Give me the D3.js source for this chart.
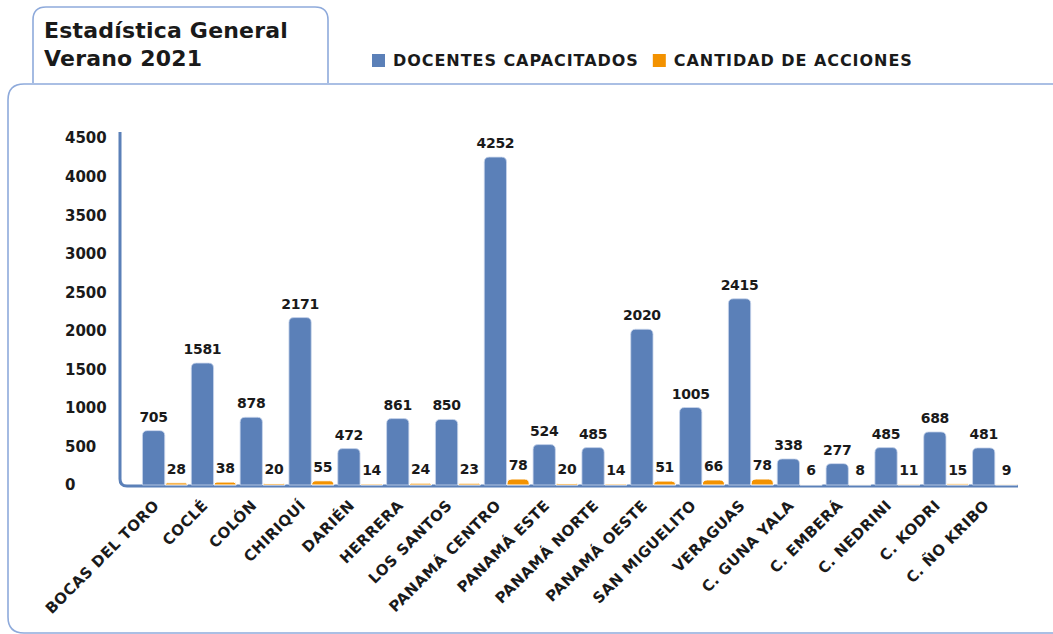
<!DOCTYPE html>
<html>
<head>
<meta charset="utf-8">
<script src="https://cdn.jsdelivr.net/npm/d3@7/dist/d3.min.js"></script>
<style>
  html, body { margin: 0; padding: 0; background: #ffffff; }
  svg { display: block; }
  text { font-family: "DejaVu Sans", sans-serif; font-weight: bold; fill: #1a1a1a; }
</style>
</head>
<body>
<svg id="chart" width="1053" height="634"></svg>
<script>
const categories = ["BOCAS DEL TORO","COCLÉ","COLÓN","CHIRIQUÍ","DARIÉN","HERRERA","LOS SANTOS","PANAMÁ CENTRO","PANAMÁ ESTE","PANAMÁ NORTE","PANAMÁ OESTE","SAN MIGUELITO","VERAGUAS","C. GUNA YALA","C. EMBERÁ","C. NEDRINI","C. KODRI","C. ÑO KRIBO"];
const docentes = [705,1581,878,2171,472,861,850,4252,524,485,2020,1005,2415,338,277,485,688,481];
const acciones = [28,38,20,55,14,24,23,78,20,14,51,66,78,6,8,11,15,9];
const seriesNames = ["DOCENTES CAPACITADOS","CANTIDAD DE ACCIONES"];
const seriesColors = ["#5b80b8","#f39200"];
const yTicks = [0,500,1000,1500,2000,2500,3000,3500,4000,4500];
const titleLines = ["Estadística General","Verano 2021"];

const svg = d3.select("#chart");
svg.append("rect").attr("width",1053).attr("height",634).attr("fill","#fff");

// frames
const frameColor = "#8eaadb";
svg.append("path")
  .attr("d","M33,83 V20 Q33,7 46,7 H315 Q328,7 328,20 V83")
  .attr("fill","none").attr("stroke",frameColor).attr("stroke-width",1.6);
svg.append("path")
  .attr("d","M1060,84 H24 Q8,84 8,100 V617 Q8,633 24,633 H1060")
  .attr("fill","none").attr("stroke",frameColor).attr("stroke-width",1.6);

// title
titleLines.forEach((t,i)=>{
  svg.append("text").attr("x",44).attr("y",38 + i*28)
    .style("font-size","22px").style("letter-spacing","0.2px").text(t);
});

// legend
let lx = 372;
seriesNames.forEach((name,i)=>{
  svg.append("rect").attr("x",lx).attr("y",54).attr("width",13).attr("height",13)
    .attr("fill",seriesColors[i]);
  const t = svg.append("text").attr("x",lx+21).attr("y",66)
    .style("font-size","16px").style("letter-spacing","0.95px").text(name);
  lx = lx + 21 + t.node().getComputedTextLength() + 14;
});

// scales
const y = d3.scaleLinear().domain([0,4500]).range([485,138]);
const x0 = d3.scaleBand().domain(categories).range([142,1018]).paddingInner(0.06).paddingOuter(0);
const x1 = d3.scaleBand().domain([0,1]).range([0,x0.bandwidth()]).padding(0.02);

// axis line
const axX = 120, axB = y(0)+1;
svg.append("path")
  .attr("d",`M${axX},${y(4500)-6} V${axB-7} Q${axX},${axB} ${axX+7},${axB} H1018`)
  .attr("fill","none").attr("stroke","#5b80b8").attr("stroke-width",3);

// y tick labels
svg.selectAll(".ytick").data(yTicks).join("text")
  .attr("x",65).attr("y",d=>y(d)).attr("dy","0.36em")
  .style("font-size","15px").text(d=>d);

function topRounded(xl, w, yt, yb, r){
  r = Math.min(r, (yb-yt), w/2);
  return `M${xl},${yb} V${yt+r} Q${xl},${yt} ${xl+r},${yt} H${xl+w-r} Q${xl+w},${yt} ${xl+w},${yt+r} V${yb} Z`;
}

const series = [docentes, acciones];
series.forEach((vals,si)=>{
  const g = svg.append("g");
  g.selectAll("path").data(vals).join("path")
    .attr("d",(v,i)=> topRounded(x0(categories[i]) + x1(si), x1.bandwidth(), y(v), y(0), 5))
    .attr("fill",seriesColors[si])
    .attr("stroke", si===0 ? "#c9d6ec" : "#ffffff").attr("stroke-width",si===0 ? 0.8 : 1);
  g.selectAll("text").data(vals).join("text")
    .attr("x",(v,i)=> x0(categories[i]) + x1(si) + x1.bandwidth()/2)
    .attr("y",v=> Math.min(y(v)-9, y(0)-10))
    .attr("text-anchor","middle")
    .style("font-size","14px").style("letter-spacing","-0.3px").text(v=>v);
});

// x labels
svg.selectAll(".xlab").data(categories).join("text")
  .attr("transform",d=>`translate(${x0(d)+x1(0)+x1.bandwidth()/2-1},499) rotate(-45)`)
  .attr("text-anchor","end").attr("dy","0.7em")
  .style("font-size","15px").style("letter-spacing","0.4px").text(d=>d);
</script>
</body>
</html>
